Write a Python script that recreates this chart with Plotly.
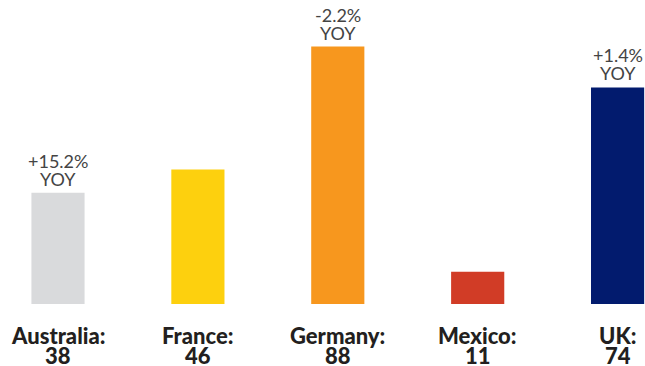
import plotly.graph_objects as go

countries = ["Australia", "France", "Germany", "Mexico", "UK"]
values = [38, 46, 88, 11, 74]
yoy = ["+15.2%", None, "-2.2%", None, "+1.4%"]
colors = ["#d9dadc", "#fdd00e", "#f7971e", "#d13c26", "#021b6e"]

positions = list(range(len(countries)))

fig = go.Figure(
    go.Bar(
        x=positions,
        y=values,
        marker=dict(color=colors, line=dict(width=0)),
        width=0.38,
        hoverinfo="skip",
    )
)

label_font = dict(family="Lato", size=22, color="#231f20", weight=900)
note_font = dict(family="Lato", size=18, color="#444444")

annotations = []
for i, (name, v, change) in enumerate(zip(countries, values, yoy)):
    # country name and value under each bar
    annotations.append(dict(
        x=i, y=0, xref="x", yref="y", text=f"{name}:",
        showarrow=False, yanchor="middle", yshift=-31, borderpad=0,
        font=label_font,
    ))
    annotations.append(dict(
        x=i, y=0, xref="x", yref="y", text=f"{v}",
        showarrow=False, yanchor="middle", yshift=-51, borderpad=0,
        font=label_font,
    ))
    # year-over-year change above selected bars
    if change:
        annotations.append(dict(
            x=i, y=v, xref="x", yref="y", text=change,
            showarrow=False, yanchor="middle", yshift=32, borderpad=0,
            font=note_font,
        ))
        annotations.append(dict(
            x=i, y=v, xref="x", yref="y", text="YOY",
            showarrow=False, yanchor="middle", yshift=14, borderpad=0,
            font=note_font,
        ))

fig.update_layout(
    width=645, height=366,
    margin=dict(l=0, r=0, t=0, b=62),
    paper_bgcolor="white", plot_bgcolor="white",
    showlegend=False,
    xaxis=dict(range=[-0.4146, 4.196], visible=False, fixedrange=True),
    yaxis=dict(range=[0, 103.9], visible=False, fixedrange=True),
    annotations=annotations,
)

fig.write_html("out.html", config={"displayModeBar": False})
